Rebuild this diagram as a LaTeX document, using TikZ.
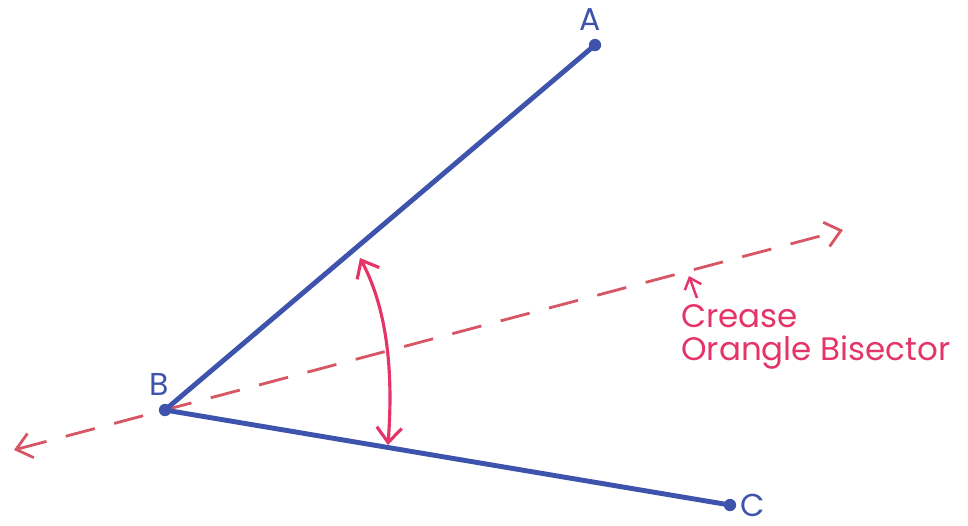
\documentclass[tikz,border=0pt]{standalone}
\usepackage{fontspec}
\setmainfont{Poppins}
\usetikzlibrary{positioning,arrows.meta}
\definecolor{penblue}{RGB}{62,84,172}
\definecolor{penred}{RGB}{214,86,100}
\definecolor{penpink}{RGB}{228,52,104}

\begin{document}
\begin{tikzpicture}[
    x=0.02cm, y=-0.02cm,
    pt/.style={circle, fill=penblue, inner sep=0pt, minimum size=7pt},
    lbl/.style={text=penblue, font=\fontsize{18}{18}\selectfont, inner sep=1pt},
    ray/.style={draw=penblue, line width=2.8pt, line cap=round},
    crease/.style={draw=penred, line width=1.6pt, dash pattern=on 0.6cm off 0.4cm,
      {Straight Barb[length=3mm, width=5mm]}-{Straight Barb[length=3mm, width=5mm]}},
    note/.style={text=penpink, anchor=west, align=left, inner sep=0pt, font=\fontsize{18.5}{19}\selectfont}
  ]
    \useasboundingbox (0,0) rectangle (968,525);
    \node[pt] (A) at (595,45) {};
    \node[pt] (B) at (165,410) {};
    \node[pt] (C) at (730,505) {};
    \node[lbl] (la) at (590,20) {A};
    \node[lbl] (lb) at (159,384) {B};
    \node[lbl] (lc) at (753,505) {C};
    \coordinate (dl) at (14,450);
    \coordinate (dr) at (843,230);
    \draw[crease] (dl) -- (dr);
    \draw[ray] (A.center) -- (B.center) -- (C.center);
    \coordinate (tup) at (360,258);
    \coordinate (tdn) at (388,445);
    \draw[penpink, line width=1.8pt, {Straight Barb[length=3mm, width=5mm]}-{Straight Barb[length=3mm, width=5mm]}]
      (tup) .. controls (392,318) and (392,390) .. (tdn);
    \node[note] (txt) at (681,337) {Crease\\Orangle Bisector};
    \coordinate (ptr) at (689,276);
    \draw[penpink, line width=1.4pt, -{Straight Barb[length=2mm, width=3.5mm]}]
      (697,298) -- (ptr);
  \end{tikzpicture}
\end{document}
